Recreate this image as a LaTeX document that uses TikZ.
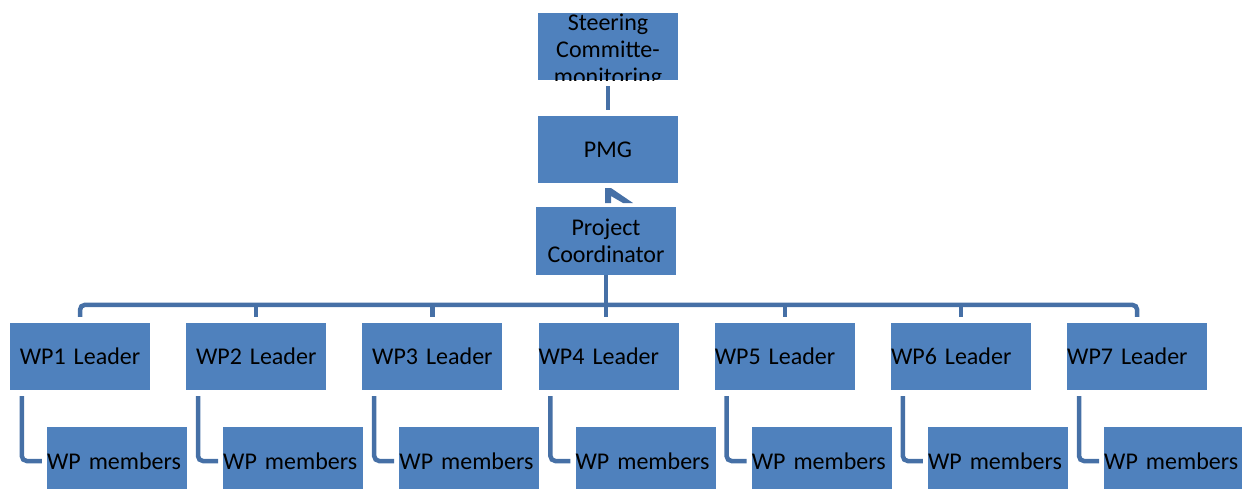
\documentclass[tikz,border=0pt]{standalone}
\usepackage{fontspec}
\setmainfont{Carlito}
\usetikzlibrary{calc}
\definecolor{boxblue}{RGB}{79,129,189}
\definecolor{lineblue}{RGB}{70,112,166}
\begin{document}
\begin{tikzpicture}[x=1pt,y=-1pt,
  box/.style={fill=boxblue, draw=none, inner xsep=0pt, inner ysep=0pt,
    minimum width=140pt, text width=140pt, font=\fontsize{24}{27}\selectfont},
  cbox/.style={box, align=center},
  lbox/.style={box, align=left},
  conn/.style={draw=lineblue, line width=4.5pt, rounded corners=5pt}]
\clip (0,0) rectangle (1242,488);
\useasboundingbox (0,0) rectangle (1242,488);
% top chain
\node[cbox, minimum height=67pt] (S) at (608,46.5) {};
\begin{scope}
  \clip (S.south west) rectangle (S.north east);
  \node[font=\fontsize{24}{27}\selectfont, align=center, inner sep=0pt] (Stext) at (608,51) {Steering\\Committe-\\monitoring};
\end{scope}
\node[cbox, minimum height=67pt] (P) at (608,149.5) {PMG};
\node[cbox, minimum height=68pt] (PC) at (606,241) {Project\\Coordinator};
\draw[conn] ([yshift=-6pt]S.south) -- ([yshift=6pt]P.north);
\fill[lineblue] (605,188) -- (611,188) -- (633,203) -- (623,203) -- (611,196) -- (611,203) -- (605,203) -- cycle;
% leaders and members
\foreach \k in {1,...,7}{
  \pgfmathsetmacro{\lx}{80+176.2*(\k-1)}
  \pgfmathsetmacro{\mx}{117+176.2*(\k-1)}
  \ifnum\k<4
    \node[cbox, minimum height=67pt] (L\k) at (\lx,356.5) {WP\k{} Leader};
  \else
    \node[lbox, minimum height=67pt] (L\k) at (\lx,356.5) {WP\k{} Leader};
  \fi
  \node[lbox, minimum height=68pt] (M\k) at (\mx,461) {WP members};
  \draw[conn] ([xshift=12pt,yshift=-6pt]L\k.south west) |- ([xshift=-5pt]M\k.west);
}
% bus
\draw[conn] ([yshift=6pt]L1.north) -- ([yshift=18pt]L1.north) -- ([yshift=18pt]L7.north) -- ([yshift=6pt]L7.north);
\foreach \k in {2,3,5,6}{
  \draw[conn] ([yshift=18pt]L\k.north) -- ([yshift=6pt]L\k.north);
}
\draw[conn] (PC.south) -- ($(PC.south |- L4.north)+(0,-6)$);
\end{tikzpicture}
\end{document}
